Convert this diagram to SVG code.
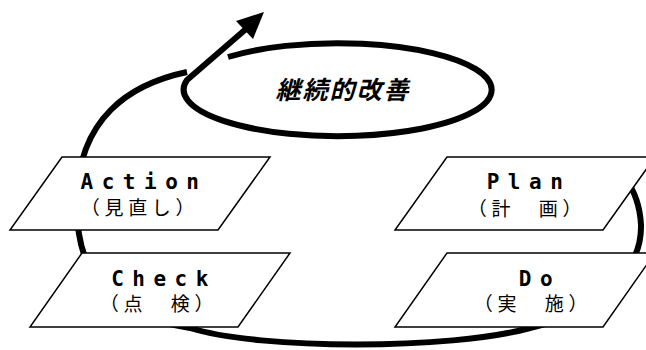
<svg xmlns="http://www.w3.org/2000/svg" width="646" height="350" viewBox="0 0 646 350">
<style>
.loop{fill:none;stroke:#000;stroke-width:6;stroke-linecap:butt;stroke-linejoin:round}
.box{fill:#fff;stroke:#000;stroke-width:1.5}
.en{font-family:"DejaVu Sans Mono","Liberation Mono",monospace;font-weight:bold;font-size:21px;letter-spacing:8.5px;text-anchor:middle;fill:#000}
.jp{font-family:"Noto Sans CJK JP","Noto Sans CJK SC",sans-serif;font-size:19px;letter-spacing:4.7px;text-anchor:middle;fill:#000}
.title{font-family:"Noto Sans CJK JP","Noto Sans CJK SC",sans-serif;font-weight:bold;font-style:italic;font-size:25px;letter-spacing:2px;text-anchor:middle;fill:#000}
</style>
<g id="connectors">
<path class="loop" d="M187,72 C130,84 78,118 77,200 C75,270 105,315 190,328 C260,350 450,350 530,328 C600,312 642,270 641,225 C640,205 634,190 625,178"/>
<path class="loop" d="M228,57 A154,46.5 0 1 1 187,80 L246,29"/>
<polygon points="264,12 236,21 253,39" fill="#000"/>
</g>
<g id="kaizen">
<text class="title" x="343" y="99">継続的改善</text>
</g>
<g id="action">
<polygon class="box" points="62,157 270,157 218,230 10,230"/>
<text class="en" x="144" y="189">Action</text>
<text class="jp" x="140" y="215">（見直し）</text>
</g>
<g id="check">
<polygon class="box" points="82,253 290,253 238,327 30,327"/>
<text class="en" x="164" y="286">Check</text>
<text class="jp" x="159" y="311">（点　検）</text>
</g>
<g id="plan">
<polygon class="box" points="447,157 655,157 603,230 395,230"/>
<text class="en" x="529" y="189">Plan</text>
<text class="jp" x="527" y="216">（計　画）</text>
</g>
<g id="do">
<polygon class="box" points="447,253 655,253 603,327 395,327"/>
<text class="en" x="540" y="286">Do</text>
<text class="jp" x="533" y="311">（実　施）</text>
</g>
</svg>
